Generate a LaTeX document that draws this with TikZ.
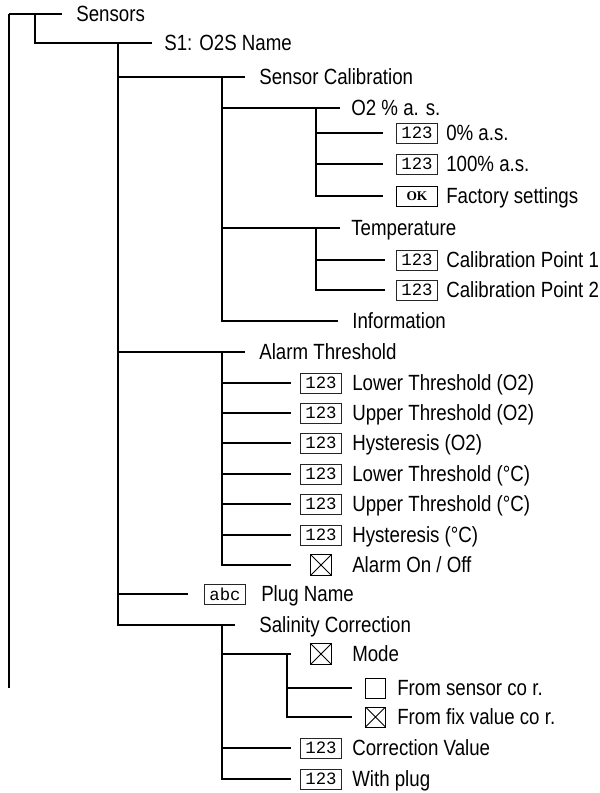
\documentclass[tikz,border=0pt]{standalone}
\usepackage{fontspec}
\setmainfont[FakeStretch=0.85]{Liberation Sans}
\setmonofont{Liberation Mono}
\newfontfamily\okfont{Liberation Serif}
\usetikzlibrary{positioning}

\begin{document}
\begin{tikzpicture}[
        x = 0.75pt, y = -0.75pt,
        line width = 2pt,
        node distance = 5.25pt,
        branch/.style = {shorten >= 9.75pt},
        entry/.style = {anchor = west, inner sep = 0pt, text height = 11.8pt, text depth = 0pt,
            font = \fontsize{16.5}{19}\selectfont},
        valbox/.style = {draw = black!85, line width = 0.7pt, anchor = west, inner sep = 0pt,
            minimum width = 30.75pt, minimum height = 15pt, font = \ttfamily\fontsize{13}{13}\selectfont},
        okbox/.style = {valbox, draw = black, font = \okfont\bfseries\fontsize{10}{10}\selectfont},
        tickbox/.style = {draw, line width = 0.7pt, anchor = west, inner sep = 0pt, minimum size = 15pt},
        ticked/.style = {tickbox, path picture = {
            \draw[line width = 0.7pt] (path picture bounding box.north west) -- (path picture bounding box.south east)
                (path picture bounding box.north east) -- (path picture bounding box.south west);}}
    ]
        \useasboundingbox (0,0) rectangle (600,793);

        % branch points
        \coordinate (root) at (9,14);
        \coordinate (root_end) at (9,688);
        \coordinate (j_s) at (35,14);
        \coordinate (j_s1) at (118,43);
        \coordinate (j_cal) at (222,77);
        \coordinate (j_o2) at (316,108);
        \coordinate (j_temp) at (316,228);
        \coordinate (j_alarm) at (222,352);
        \coordinate (j_sal) at (222,625);
        \coordinate (j_mode) at (287,654);

        \node[entry] (sensors) at (75,14) {Sensors};
        \node[entry] (s1) at (163,43) {S1: O2S Name};
        \node[entry] (calib) at (258,77) {Sensor Calibration};
        \node[entry] (o2) at (350,108) {O2 \% a. s.};
        \node[valbox] (b_zero) at (396,133) {123};
        \node[entry, right = of b_zero] (t_zero) {0\% a.s.};
        \node[valbox] (b_full) at (396,164) {123};
        \node[entry, right = of b_full] (t_full) {100\% a.s.};
        \node[okbox] (b_ok) at (396,196) {OK};
        \node[entry, right = of b_ok] (t_ok) {Factory settings};
        \node[entry] (temp) at (350,228) {Temperature};
        \node[valbox] (b_cp1) at (396,260) {123};
        \node[entry, right = of b_cp1] (t_cp1) {Calibration Point 1};
        \node[valbox] (b_cp2) at (396,290) {123};
        \node[entry, right = of b_cp2] (t_cp2) {Calibration Point 2};
        \node[entry] (info) at (351,321) {Information};

        \node[entry] (alarm) at (258,352) {Alarm Threshold};
        \node[valbox] (b_lo2) at (300,383) {123};
        \node[entry, right = 6.75pt of b_lo2] (t_lo2) {Lower Threshold (O2)};
        \node[valbox] (b_uo2) at (300,413) {123};
        \node[entry, right = 6.75pt of b_uo2] (t_uo2) {Upper Threshold (O2)};
        \node[valbox] (b_ho2) at (300,443) {123};
        \node[entry, right = 6.75pt of b_ho2] (t_ho2) {Hysteresis (O2)};
        \node[valbox] (b_lt) at (300,474) {123};
        \node[entry, right = 6.75pt of b_lt] (t_lt) {Lower Threshold (°C)};
        \node[valbox] (b_ut) at (300,504) {123};
        \node[entry, right = 6.75pt of b_ut] (t_ut) {Upper Threshold (°C)};
        \node[valbox] (b_ht) at (300,535) {123};
        \node[entry, right = 6.75pt of b_ht] (t_ht) {Hysteresis (°C)};
        \node[ticked, minimum size = 15.75pt] (b_onoff) at (310,565) {};
        \node[entry, right = 14.25pt of b_onoff] (t_onoff) {Alarm On / Off};

        \node[valbox] (b_plug) at (204,594) {abc};
        \node[entry, right = 10.5pt of b_plug] (t_plug) {Plug Name};

        \node[entry] (salin) at (258,625) {Salinity Correction};
        \node[ticked, minimum size = 15.75pt] (b_mode) at (310,654) {};
        \node[entry, right = 14.25pt of b_mode] (t_mode) {Mode};
        \node[tickbox] (b_sens) at (365,688) {};
        \node[entry, right = 7.5pt of b_sens] (t_sens) {From sensor co r.};
        \node[ticked] (b_fix) at (365,717) {};
        \node[entry, right = 7.5pt of b_fix] (t_fix) {From fix value co r.};
        \node[valbox] (b_corr) at (300,748) {123};
        \node[entry, right = 6.75pt of b_corr] (t_corr) {Correction Value};
        \node[valbox] (b_wplug) at (300,779) {123};
        \node[entry, right = 6.75pt of b_wplug] (t_wplug) {With plug};

        % tree lines
        \draw (root) -- (root_end);
        \draw[branch] (root) -- (sensors);
        \draw[branch, shorten >= 8.25pt] (j_s) |- (s1);
        \draw[branch] (j_s1) |- (calib);
        \draw[branch] (j_s1) |- (alarm);
        \draw[branch, shorten >= 12pt] (j_s1) |- (b_plug);
        \draw[branch, shorten >= 17.25pt] (j_s1) |- (salin);
        \draw[branch, shorten >= 7.5pt] (j_cal) |- (o2);
        \draw[branch, shorten >= 7.5pt] (j_cal) |- (temp);
        \draw[branch] (j_cal) |- (info);
        \draw[branch] (j_o2) |- (b_zero);
        \draw[branch] (j_o2) |- (b_full);
        \draw[branch] (j_o2) |- (b_ok);
        \draw[branch, shorten >= 8.25pt] (j_temp) |- (b_cp1);
        \draw[branch, shorten >= 8.25pt] (j_temp) |- (b_cp2);
        \draw[branch, shorten >= 6.75pt] (j_alarm) |- (b_lo2);
        \draw[branch, shorten >= 6.75pt] (j_alarm) |- (b_uo2);
        \draw[branch, shorten >= 6.75pt] (j_alarm) |- (b_ho2);
        \draw[branch, shorten >= 6.75pt] (j_alarm) |- (b_lt);
        \draw[branch, shorten >= 6.75pt] (j_alarm) |- (b_ut);
        \draw[branch, shorten >= 6.75pt] (j_alarm) |- (b_ht);
        \draw[branch, shorten >= 14.25pt] (j_alarm) |- (b_onoff);
        \draw[branch, shorten >= 14.25pt] (j_sal) |- (b_mode);
        \draw[branch] (j_mode) |- (b_sens);
        \draw[branch] (j_mode) |- (b_fix);
        \draw[branch, shorten >= 6.75pt] (j_sal) |- (b_corr);
        \draw[branch, shorten >= 6.75pt] (j_sal) |- (b_wplug);

\end{tikzpicture}
\end{document}
